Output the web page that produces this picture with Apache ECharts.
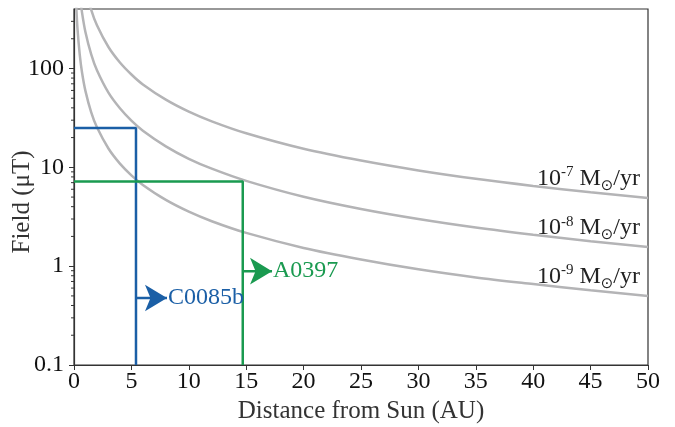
<!DOCTYPE html>
<html lang="en">
<head>
    <meta charset="UTF-8">
    <title>Field vs distance</title>
    <script src="https://cdn.jsdelivr.net/npm/echarts@6/dist/echarts.min.js"></script>
    <style>
        html, body { margin: 0; padding: 0; background: #fff; }
        #chart { width: 675px; height: 427px; }
    </style>
</head>
<body>
<div id="chart"></div>
<script type="application/javascript">
    // distance from Sun (AU) where the field curves were read
    var distance = [0.2, 0.3, 0.5, 0.7, 1, 1.5, 2, 3, 4, 5, 6, 8, 10, 12, 15, 20, 25, 30, 35, 40, 45, 50];
    // field (uT) for each mass loss rate
    var field7 = [4860, 2930, 1550, 1020, 651, 392, 274, 165, 115, 87, 69, 48.4, 36.6, 29.2, 22.1, 15.4, 11.7, 9.3, 7.65, 6.48, 5.59, 4.9];
    var field8 = [1828, 1089, 566, 368, 233, 139, 96, 57, 39.6, 29.7, 23.5, 16.3, 12.2, 9.7, 7.3, 5.04, 3.79, 3.0, 2.46, 2.08, 1.79, 1.56];
    var field9 = [421, 256, 138, 91, 59, 36, 25.4, 15.5, 10.9, 8.3, 6.64, 4.68, 3.56, 2.85, 2.17, 1.53, 1.17, 0.93, 0.77, 0.66, 0.57, 0.5];
    var curveRates = ['-7', '-8', '-9'];

    // object boxes: [distance, field]
    var boxC0085b = [[0, 25], [5.4, 25], [5.4, 0.1]];
    var boxA0397 = [[0, 7.2], [14.7, 7.2], [14.7, 0.1]];
    // arrow: start on the box edge, end at the tip
    var arrowC0085b = [[5.4, 0.476], [8.1, 0.476]];
    var arrowA0397 = [[14.7, 0.89], [17.25, 0.89]];

    var minorTicks = [0.2, 0.3, 0.4, 0.5, 0.6, 0.7, 0.8, 0.9, 2, 3, 4, 5, 6, 7, 8, 9,
        20, 30, 40, 50, 60, 70, 80, 90, 200, 300];

    var serif = 'Liberation Serif';
    var blue = '#1b5fa6';
    var green = '#1a9a50';
    var grey = '#b4b4b6';
    var ink = '#222';

    function zip(xs, ys) {
        return xs.map(function (x, i) { return [x, ys[i]]; });
    }

    function curve(ys, rate) {
        return {
            type: 'line',
            data: zip(distance, ys),
            showSymbol: false,
            smooth: 0.3,
            lineStyle: {color: grey, width: 2.5},
            silent: true,
            endLabel: {
                show: true,
                formatter: '{n|10}{s|' + rate + '}{n| M}{o|\u2299}{n|/yr}',
                align: 'right',
                verticalAlign: 'bottom',
                offset: [-16, -4],
                color: ink,
                rich: {
                    n: {fontFamily: serif, fontSize: 24, color: ink},
                    s: {fontFamily: serif, fontSize: 15, color: ink, padding: [0, 0, 13, 0]},
                    o: {fontFamily: 'DejaVu Sans', fontSize: 15, color: ink, padding: [15, 0, 0, 0]}
                }
            }
        };
    }

    function box(pts, color) {
        return {
            type: 'line',
            data: pts,
            showSymbol: false,
            lineStyle: {color: color, width: 2.5},
            silent: true
        };
    }

    function arrow(pts, color, name) {
        return {
            type: 'line',
            data: [
                {value: pts[0], symbol: 'none'},
                {
                    value: pts[1],
                    symbol: 'arrow',
                    symbolSize: [20, 22],
                    symbolRotate: -90,
                    label: {
                        show: true,
                        position: 'right',
                        distance: 1,
                        formatter: name,
                        fontFamily: serif,
                        fontSize: 24,
                        color: color
                    }
                }
            ],
            showSymbol: true,
            showAllSymbol: true,
            itemStyle: {color: color},
            lineStyle: {color: color, width: 2.5},
            silent: true
        };
    }

    var chart = echarts.init(document.getElementById('chart'), null, {renderer: 'canvas'});
    var option = {
        animation: false,
        grid: {
            left: 74, right: 27, top: 9, bottom: 62,
            outerBoundsMode: 'none',
            containLabel: false,
            show: true, borderColor: '#333', borderWidth: 1.2
        },
        graphic: [{
            type: 'text',
            x: 22, y: 202,
            rotation: Math.PI / 2,
            style: {
                text: 'Field (\u03bcT)',
                fontFamily: serif, fontSize: 25, fill: '#333',
                align: 'center', verticalAlign: 'middle'
            },
            originX: 0, originY: 0
        }],
        xAxis: {
            type: 'value',
            min: 0, max: 50, interval: 5,
            name: 'Distance from Sun (AU)',
            nameLocation: 'middle',
            nameGap: 33,
            nameTextStyle: {fontFamily: serif, fontSize: 25, color: '#333'},
            axisLine: {lineStyle: {color: '#333', width: 1.2}},
            axisTick: {length: 5, lineStyle: {color: '#333'}},
            axisLabel: {fontFamily: serif, fontSize: 24, color: '#111', margin: 5},
            splitLine: {show: false}
        },
        yAxis: {
            type: 'log',
            min: 0.1, max: 400,
            axisLine: {lineStyle: {color: '#333', width: 1.2}},
            axisTick: {length: 5, lineStyle: {color: '#333'}},
            axisLabel: {
                fontFamily: serif, fontSize: 24, color: '#111', margin: 10,
                showMaxLabel: false
            },
            splitLine: {show: false}
        },
        series: [
            curve(field7, curveRates[0]),
            curve(field8, curveRates[1]),
            curve(field9, curveRates[2]),
            box(boxC0085b, blue),
            box(boxA0397, green),
            arrow(arrowC0085b, blue, 'C0085b'),
            arrow(arrowA0397, green, 'A0397'),
            {
                type: 'custom',
                silent: true,
                clip: false,
                data: minorTicks.map(function (v) { return [0, v]; }),
                renderItem: function (params, api) {
                    var p = api.coord([api.value(0), api.value(1)]);
                    return {
                        type: 'line',
                        shape: {x1: p[0] - 3, y1: p[1], x2: p[0], y2: p[1]},
                        style: {stroke: '#333', lineWidth: 1}
                    };
                }
            }
        ]
    };
    chart.setOption(option);
</script>
</body>
</html>
